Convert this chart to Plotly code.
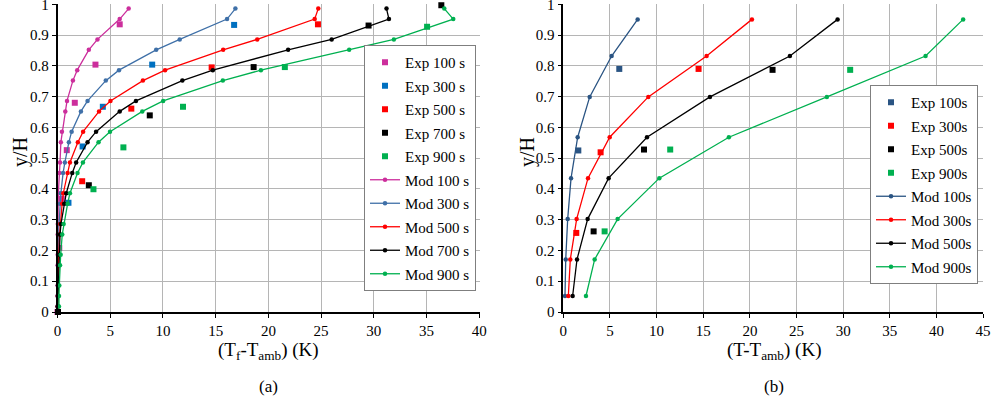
import plotly.graph_objects as go

FONT = "Liberation Serif, Times New Roman, Times, serif"

# ---------------- panel (a): fluid temperature rise ----------------
Y_MOD_A = [0.986, 0.952, 0.886, 0.852, 0.786, 0.752, 0.686, 0.652, 0.586, 0.552, 0.486,
           0.452, 0.386, 0.352, 0.286, 0.252, 0.186, 0.152, 0.086, 0.052, 0.018]
MOD100_A = [6.75, 5.9, 3.79, 2.97, 1.87, 1.46, 0.9, 0.74, 0.42, 0.32, 0.24,
            0.17, 0.08, 0.06, 0.03, 0.02, 0.02, 0.01, 0.01, 0.0, 0.0]
MOD300_A = [16.87, 16.08, 11.59, 9.36, 5.83, 4.58, 2.85, 2.22, 1.34, 1.08, 0.7,
            0.53, 0.32, 0.25, 0.15, 0.12, 0.08, 0.06, 0.03, 0.02, 0.01]
MOD500_A = [24.73, 24.39, 18.94, 15.71, 10.2, 8.1, 5.02, 3.94, 2.43, 1.93, 1.18,
            0.96, 0.55, 0.44, 0.26, 0.2, 0.12, 0.09, 0.05, 0.03, 0.02]
MOD700_A = [31.2, 31.43, 26.0, 21.87, 14.73, 11.84, 7.44, 5.9, 3.66, 2.85, 1.77,
            1.4, 0.83, 0.64, 0.33, 0.24, 0.16, 0.12, 0.06, 0.04, 0.02]
MOD900_A = [36.68, 37.53, 31.9, 27.66, 19.29, 15.68, 10.02, 8.04, 4.98, 3.89, 2.41,
            1.9, 1.18, 0.96, 0.58, 0.45, 0.3, 0.24, 0.17, 0.14, 0.14]

EXP100_A_X = [5.9, 3.6, 1.64, 0.88, 0.4, 0.17, 0.0]
EXP100_A_Y = [0.935, 0.804, 0.680, 0.526, 0.368, 0.208, 0.0]
EXP300_A_X = [16.75, 8.98, 4.3, 2.38, 1.04]
EXP300_A_Y = [0.933, 0.804, 0.667, 0.538, 0.355]
EXP500_A_X = [24.7, 14.62, 7.0, 2.34]
EXP500_A_Y = [0.935, 0.795, 0.661, 0.425]
EXP700_A_X = [36.4, 29.5, 18.6, 8.75, 2.97, 0.05]
EXP700_A_Y = [0.997, 0.931, 0.796, 0.639, 0.412, 0.0]
EXP900_A_X = [35.05, 21.56, 11.9, 6.25, 3.41]
EXP900_A_Y = [0.927, 0.796, 0.667, 0.535, 0.399]

# ---------------- panel (b): temperature rise ----------------
Y_MOD_B = [0.951, 0.832, 0.699, 0.568, 0.435, 0.302, 0.171, 0.052]
MOD100_B = [7.97, 5.18, 2.83, 1.54, 0.83, 0.47, 0.26, 0.18]
MOD300_B = [20.22, 15.36, 9.11, 4.97, 2.65, 1.43, 0.75, 0.54]
MOD500_B = [29.4, 24.29, 15.72, 8.97, 4.86, 2.61, 1.47, 1.0]
MOD900_B = [42.86, 38.83, 28.25, 17.75, 10.29, 5.82, 3.36, 2.43]

EXP100_B_X = [6.0, 1.61]
EXP100_B_Y = [0.79, 0.525]
EXP300_B_X = [14.5, 4.0, 1.39]
EXP300_B_Y = [0.79, 0.519, 0.257]
EXP500_B_X = [22.43, 8.65, 3.25]
EXP500_B_Y = [0.787, 0.528, 0.262]
EXP900_B_X = [30.75, 11.46, 4.43]
EXP900_B_Y = [0.787, 0.528, 0.262]

# tick labels
Y_TICKS = [0, 0.1, 0.2, 0.3, 0.4, 0.5, 0.6, 0.7, 0.8, 0.9, 1]
Y_TICK_TEXT = ["0", "0.1", "0.2", "0.3", "0.4", "0.5", "0.6", "0.7", "0.8", "0.9", "1"]
X_TICKS_A = [0, 5, 10, 15, 20, 25, 30, 35, 40]
X_TICKS_B = [0, 5, 10, 15, 20, 25, 30, 35, 40, 45]

MAGENTA = "#CC2E9C"
BLUE_EXP = "#0070C0"
BLUE_MOD = "#3F70A8"
NAVY = "#2A5483"
RED = "#FF0000"
BLACK = "#000000"
GREEN = "#00B050"

fig = go.Figure()


def exp_trace(x, y, name, color, xa, ya, legend):
    fig.add_trace(go.Scatter(
        x=x, y=y, name=name, mode="markers", xaxis=xa, yaxis=ya,
        legend=legend, legendgroup=legend + name, cliponaxis=False,
        marker=dict(symbol="square", size=6, color=color),
    ))


def mod_trace(x, y, name, color, xa, ya, legend):
    fig.add_trace(go.Scatter(
        x=x, y=y, name=name, mode="lines+markers", xaxis=xa, yaxis=ya,
        legend=legend, legendgroup=legend + name, cliponaxis=False,
        line=dict(color=color, width=1.3),
        marker=dict(symbol="circle", size=4.5, color=color),
    ))


for x, y, n, c in [
    (EXP100_A_X, EXP100_A_Y, "Exp 100 s", MAGENTA),
    (EXP300_A_X, EXP300_A_Y, "Exp 300 s", BLUE_EXP),
    (EXP500_A_X, EXP500_A_Y, "Exp 500 s", RED),
    (EXP700_A_X, EXP700_A_Y, "Exp 700 s", BLACK),
    (EXP900_A_X, EXP900_A_Y, "Exp 900 s", GREEN),
]:
    exp_trace(x, y, n, c, "x", "y", "legend")

for x, n, c in [
    (MOD100_A, "Mod 100 s", MAGENTA),
    (MOD300_A, "Mod 300 s", BLUE_MOD),
    (MOD500_A, "Mod 500 s", RED),
    (MOD700_A, "Mod 700 s", BLACK),
    (MOD900_A, "Mod 900 s", GREEN),
]:
    mod_trace(x, Y_MOD_A, n, c, "x", "y", "legend")

for x, y, n, c in [
    (EXP100_B_X, EXP100_B_Y, "Exp 100s", NAVY),
    (EXP300_B_X, EXP300_B_Y, "Exp 300s", RED),
    (EXP500_B_X, EXP500_B_Y, "Exp 500s", BLACK),
    (EXP900_B_X, EXP900_B_Y, "Exp 900s", GREEN),
]:
    exp_trace(x, y, n, c, "x2", "y2", "legend2")

for x, n, c in [
    (MOD100_B, "Mod 100s", NAVY),
    (MOD300_B, "Mod 300s", RED),
    (MOD500_B, "Mod 500s", BLACK),
    (MOD900_B, "Mod 900s", GREEN),
]:
    mod_trace(x, Y_MOD_B, n, c, "x2", "y2", "legend2")

W, H = 993, 405
GRID = "#B5B5B5"


def px_x(p):
    return p / W


def px_y(p):
    return 1 - p / H


axis_common = dict(
    showgrid=True, gridcolor=GRID, gridwidth=1, zeroline=False,
    showline=True, linecolor="black", linewidth=1.5,
    ticks="outside", ticklen=4, tickcolor="black", tickwidth=1,
    tickfont=dict(family=FONT, size=15, color="black"),
    ticklabeloverflow="allow",
    automargin=False, fixedrange=True,
)

legend_common = dict(
    font=dict(family=FONT, size=15, color="black"),
    bgcolor="white", bordercolor="#7F7F7F", borderwidth=1,
    tracegroupgap=1, itemwidth=30, xanchor="right", yanchor="top",
)

fig.update_layout(
    width=W, height=H,
    margin=dict(l=0, r=0, t=0, b=0),
    paper_bgcolor="white", plot_bgcolor="white",
    font=dict(family=FONT, color="black"),
    xaxis=dict(domain=[px_x(57.5), px_x(479.5)], range=[0, 40.02],
               tickvals=X_TICKS_A, anchor="y", **axis_common),
    yaxis=dict(domain=[px_y(312), px_y(4)], range=[0, 1.001],
               tickvals=Y_TICKS, ticktext=Y_TICK_TEXT, anchor="x", **axis_common),
    xaxis2=dict(domain=[px_x(563.3), px_x(983.3)], range=[0, 45.02],
                tickvals=X_TICKS_B, anchor="y2", **axis_common),
    yaxis2=dict(domain=[px_y(312), px_y(4)], range=[0, 1.001],
                tickvals=Y_TICKS, ticktext=Y_TICK_TEXT, anchor="x2", **axis_common),
    legend=dict(x=px_x(476), y=px_y(45), **legend_common),
    legend2=dict(x=px_x(978), y=px_y(85), **legend_common),
    showlegend=True,
)

ann_font = dict(family=FONT, size=19, color="black")
for xc, txt in [(268, "(T<sub>f</sub>-T<sub>amb</sub>) (K)"), (774, "(T-T<sub>amb</sub>) (K)")]:
    fig.add_annotation(x=px_x(xc), y=px_y(351), xref="paper", yref="paper",
                       xanchor="center", yanchor="middle",
                       text=txt, showarrow=False, font=ann_font)
for xc, txt in [(268, "(a)"), (774, "(b)")]:
    fig.add_annotation(x=px_x(xc), y=px_y(386), xref="paper", yref="paper",
                       xanchor="center", yanchor="middle",
                       text=txt, showarrow=False, font=dict(family=FONT, size=17, color="black"))
for xc in (20, 527):
    fig.add_annotation(x=px_x(xc), y=px_y(152), xref="paper", yref="paper",
                       xanchor="center", yanchor="middle",
                       text="y/H", textangle=-90, showarrow=False,
                       font=dict(family=FONT, size=20, color="black"))

fig.write_html("out.html")
